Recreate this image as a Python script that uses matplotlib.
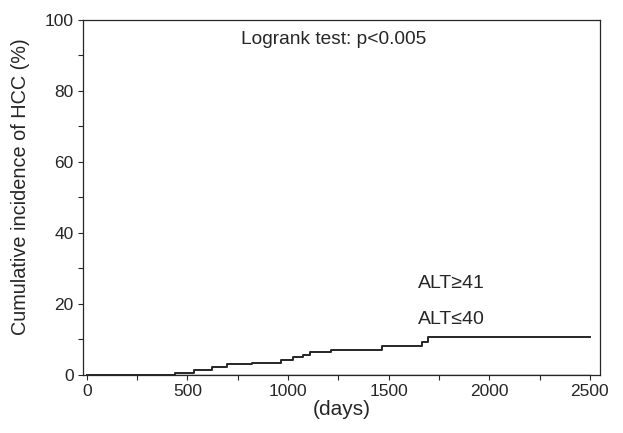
import matplotlib

matplotlib.use("Agg")
import matplotlib.pyplot as plt
from matplotlib.ticker import MultipleLocator

# ALT>=41 group: step times (days) and cumulative incidence (%)
high_days = [0, 440, 530, 620, 695, 820, 965, 1025, 1075, 1110, 1215, 1465, 1665, 1695, 2500]
high_pct = [0, 0.6, 1.5, 2.3, 3.0, 3.5, 4.3, 5.0, 5.7, 6.5, 7.1, 8.3, 9.3, 10.6, 10.6]

# ALT<=40 group: no events
low_days = [0, 2500]
low_pct = [0, 0]

x_ticks = [0, 500, 1000, 1500, 2000, 2500]
y_ticks = [0, 20, 40, 60, 80, 100]

plt.rcParams["font.family"] = ["Liberation Sans", "DejaVu Sans"]
ink = "#262626"

fig = plt.figure(figsize=(6.23, 4.33), dpi=100)
ax = fig.add_axes([0.133, 0.134, 0.830, 0.820])

ax.step(low_days, low_pct, where="post", color=ink, lw=1.0)
ax.step(high_days, high_pct, where="post", color=ink, lw=1.4)

ax.set_xlim(-20, 2550)
ax.set_ylim(0, 100)
ax.set_xticks(x_ticks)
ax.set_yticks(y_ticks)
ax.xaxis.set_minor_locator(MultipleLocator(250))
ax.yaxis.set_minor_locator(MultipleLocator(10))
ax.tick_params(which="both", direction="out", length=3.5, width=0.8,
               colors=ink, labelsize=12.5, pad=3)
for s in ax.spines.values():
    s.set_color(ink)
    s.set_linewidth(0.9)

ax.set_xlabel("(days)", fontsize=15, color=ink, labelpad=1)
ax.set_ylabel("Cumulative incidence of HCC (%)", fontsize=14.3, color=ink)
ax.yaxis.set_label_coords(-0.102, 0.53)

ax.text(765, 94.4, "Logrank test: p<0.005", fontsize=13.8, color=ink, va="center")
ax.text(1645, 25.9, "ALT≥41", fontsize=14, color=ink, va="center")
ax.text(1645, 15.5, "ALT≤40", fontsize=14, color=ink, va="center")

fig.savefig("out.png", dpi=100, facecolor="white")
